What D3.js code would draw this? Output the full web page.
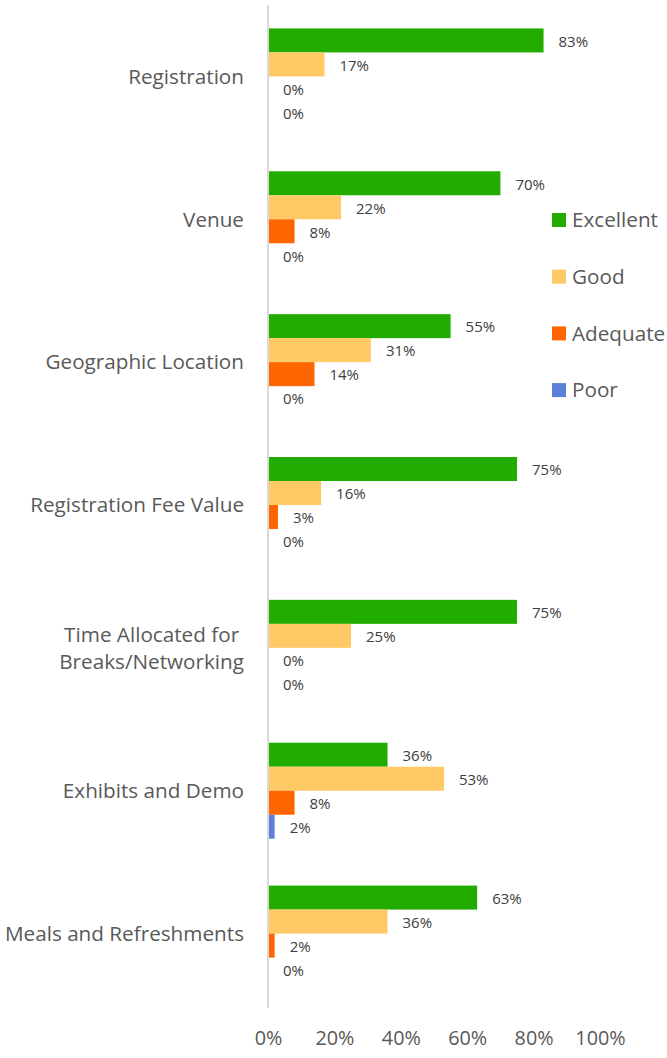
<!DOCTYPE html>
<html>
<head>
<meta charset="utf-8">
<script src="https://cdn.jsdelivr.net/npm/d3@7"></script>
<style>
  body { margin: 0; background: white; }
  text { font-family: "Open Sans", "Noto Sans", sans-serif; }
</style>
</head>
<body>
<div class="chart"></div>
<script>
var categories = ["Registration", "Venue", "Geographic Location", "Registration Fee Value",
    "Time Allocated for\nBreaks/Networking", "Exhibits and Demo", "Meals and Refreshments"];

var series = ["Excellent", "Good", "Adequate", "Poor"];

var excellent = [0.83, 0.70, 0.55, 0.75, 0.75, 0.36, 0.63];
var good = [0.17, 0.22, 0.31, 0.16, 0.25, 0.53, 0.36];
var adequate = [0, 0.08, 0.14, 0.03, 0, 0.08, 0.02];
var poor = [0, 0, 0, 0, 0, 0.02, 0];

var xTicks = [0, 0.2, 0.4, 0.6, 0.8, 1.0];

var colorKey = {
    "Excellent": "#22AC00",
    "Good": "#FFCA66",
    "Adequate": "#FF6600",
    "Poor": "#5B80D8"
}

var values = {
    "Excellent": excellent,
    "Good": good,
    "Adequate": adequate,
    "Poor": poor
}

var width = 667, height = 1058;

var svg = d3.select(".chart")
    .append("svg")
    .attr("width", width)
    .attr("height", height)

var x = d3.scaleLinear()
    .domain([0, 1])
    .range([268, 600]);

var y0 = d3.scaleBand()
    .domain(categories)
    .range([5, 1005])
    .paddingInner(0.328)
    .paddingOuter(0.164);

var y1 = d3.scaleBand()
    .domain(series)
    .range([0, y0.bandwidth()]);

var rows = [];
categories.forEach(function(c, i) {
    series.forEach(function(s) {
        rows.push({ cat: c, series: s, value: values[s][i] });
    })
})

svg.selectAll(".bar")
    .data(rows)
    .enter().append("rect")
    .attr("class", "bar")
    .attr("x", x(0))
    .attr("y", function(d) { return y0(d.cat) + y1(d.series); })
    .attr("width", function(d) { return x(d.value) - x(0); })
    .attr("height", y1.bandwidth())
    .attr("fill", function(d) { return colorKey[d.series]; });

svg.selectAll(".valueLabel")
    .data(rows)
    .enter().append("text")
    .attr("class", "valueLabel")
    .attr("x", function(d) { return x(d.value) + 15; })
    .attr("y", function(d) { return y0(d.cat) + y1(d.series) + y1.bandwidth() / 2 + 1; })
    .attr("dy", "0.35em")
    .style("font-size", "15px")
    .style("fill", "#404040")
    .text(function(d) { return Math.round(d.value * 100) + "%"; });

// vertical axis line
svg.append("line")
    .attr("x1", x(0))
    .attr("x2", x(0))
    .attr("y1", 5)
    .attr("y2", 1008)
    .attr("stroke", "#d9d9d9")
    .attr("stroke-width", 2);

// category labels
var catLabel = svg.selectAll(".catLabel")
    .data(categories)
    .enter().append("text")
    .attr("class", "catLabel")
    .style("font-size", "20.7px")
    .style("fill", "#595959")
    .each(function(d) {
        var lines = d.split("\n");
        var t = d3.select(this);
        var cy = y0(d) + y0.bandwidth() / 2;
        lines.forEach(function(l, i) {
            t.append("tspan")
                .attr("y", cy + (i - (lines.length - 1) / 2) * 27)
                .attr("dy", "0.35em")
                .text(l);
        })
        if (lines.length == 1) {
            t.attr("text-anchor", "end");
            t.selectAll("tspan").attr("x", 244);
        } else {
            var maxW = 0;
            t.selectAll("tspan").each(function() {
                maxW = Math.max(maxW, this.getComputedTextLength());
            })
            t.attr("text-anchor", "middle");
            t.selectAll("tspan").attr("x", 244 - maxW / 2);
        }
    });

// x axis
var xAxis = d3.axisBottom(x)
    .tickValues(xTicks)
    .tickSize(0)
    .tickFormat(d3.format(".0%"));

var gx = svg.append("g")
    .attr("transform", "translate(0, 1028)")
    .call(xAxis);

gx.select(".domain").remove();
gx.selectAll("text")
    .style("font-family", "\"Open Sans\", sans-serif")
    .style("font-size", "19.8px")
    .style("fill", "#595959");

// legend
var legendRow = svg.selectAll(".legendRow")
    .data(series)
    .enter().append("g")
    .attr("class", "legendRow")
    .attr("transform", function(d, i) {
        return "translate(552, " + (220 + i * 56.7) + ")";
    })

legendRow.append("rect")
    .attr("x", 0)
    .attr("y", -7)
    .attr("width", 14)
    .attr("height", 14)
    .attr("fill", function(d) { return colorKey[d]; });

legendRow.append("text")
    .attr("x", 20)
    .attr("y", 0)
    .attr("dy", "0.35em")
    .style("font-size", "20.7px")
    .style("fill", "#595959")
    .text(function(d) { return d; });
</script>
</body>
</html>
